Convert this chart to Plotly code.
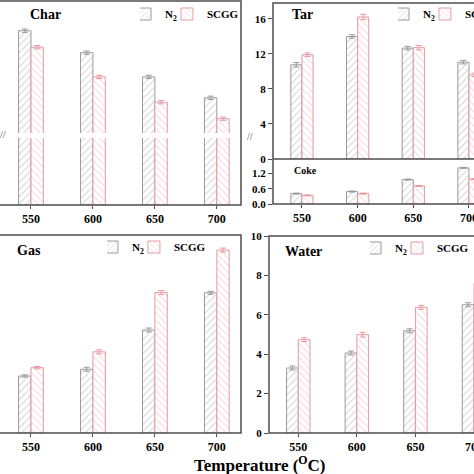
import plotly.graph_objects as go

W = H = 474

# ---------------- data ----------------
temps = ["550", "600", "650", "700"]

char_n2 = [29.3, 27.3, 25.1, 23.2]
char_scgg = [27.8, 25.1, 22.8, 21.3]
char_n2_err = [0.15, 0.15, 0.15, 0.15]
char_scgg_err = [0.15, 0.15, 0.15, 0.15]

tar_n2 = [10.75, 13.98, 12.65, 11.05]
tar_scgg = [11.9, 16.2, 12.7, 9.6]
tar_n2_err = [0.25, 0.2, 0.2, 0.2]
tar_scgg_err = [0.2, 0.3, 0.25, 0.2]

coke_n2 = [0.41, 0.49, 0.96, 1.42]
coke_scgg = [0.34, 0.41, 0.71, 0.98]
coke_n2_err = [0.02, 0.02, 0.02, 0.02]
coke_scgg_err = [0.02, 0.02, 0.02, 0.02]

gas_n2 = [14.4, 16.1, 26.0, 35.4]
gas_scgg = [16.5, 20.5, 35.5, 46.2]
gas_n2_err = [0.3, 0.5, 0.5, 0.4]
gas_scgg_err = [0.3, 0.5, 0.5, 0.5]

water_n2 = [3.3, 4.06, 5.19, 6.51]
water_scgg = [4.74, 4.99, 6.38, 7.6]
water_n2_err = [0.1, 0.1, 0.1, 0.1]
water_scgg_err = [0.1, 0.12, 0.1, 0.1]

# ---------------- style ----------------
FONT = "Liberation Serif"
N2_LINE = "#9a9a9a"
N2_HATCH = "#b4b4b4"
SC_LINE = "#e49aa3"
SC_HATCH = "#eeb6bd"
FRAME = "#4d4d4d"


def px(x):
    return x / W


def py(y):
    return 1 - y / H


def bars(x_ax, y_ax, n2, sc, n2e=None, sce=None, legend=None, show=False):
    out = []
    for name, vals, err, lc, hc, shape, og in [
        ("N<sub>2</sub>", n2, n2e, N2_LINE, N2_HATCH, "/", "a"),
        ("SCGG", sc, sce, SC_LINE, SC_HATCH, "\\", "b"),
    ]:
        kw = {}
        if err is not None:
            kw["error_y"] = dict(type="data", array=err, color=lc, thickness=1, width=3)
        out.append(go.Bar(
            x=temps, y=vals, name=name, xaxis=x_ax, yaxis=y_ax, offsetgroup=og,
            marker=dict(color="white", line=dict(color=lc, width=1),
                        pattern=dict(shape=shape, fgcolor=hc, bgcolor="white",
                                     size=5, solidity=0.22)),
            showlegend=show, legend=legend, **kw))
    return out


fig = go.Figure()
# Char (broken axis: upper + lower segments)
for t in bars("x", "y", char_n2, char_scgg, char_n2_err, char_scgg_err, "legend", True):
    fig.add_trace(t)
for t in bars("x2", "y2", char_n2, char_scgg):
    fig.add_trace(t)
# Tar / Coke
for t in bars("x3", "y3", tar_n2, tar_scgg, tar_n2_err, tar_scgg_err, "legend2", True):
    fig.add_trace(t)
for t in bars("x4", "y4", coke_n2, coke_scgg, coke_n2_err, coke_scgg_err):
    fig.add_trace(t)
# Gas
for t in bars("x5", "y5", gas_n2, gas_scgg, gas_n2_err, gas_scgg_err, "legend3", True):
    fig.add_trace(t)
# Water
for t in bars("x6", "y6", water_n2, water_scgg, water_n2_err, water_scgg_err, "legend4", True):
    fig.add_trace(t)

tickfont = dict(family=FONT, size=12, color="black", weight="bold")
ytickfont = dict(family=FONT, size=11, color="black", weight="bold")


def xaxis(dom, rng, labels, anchor):
    d = dict(domain=dom, range=rng, type="category", anchor=anchor,
             showgrid=False, zeroline=False, showline=False, fixedrange=True)
    if labels:
        d.update(ticks="outside", ticklen=3, tickcolor=FRAME, tickfont=tickfont)
    else:
        d.update(showticklabels=False, ticks="")
    return d


def yaxis(dom, rng, anchor, labels=False, **extra):
    d = dict(domain=dom, range=rng, anchor=anchor, showgrid=False, zeroline=False,
             showline=False, fixedrange=True)
    if labels:
        d.update(ticks="outside", ticklen=4, tickcolor=FRAME, tickfont=ytickfont)
    else:
        d.update(showticklabels=False, ticks="")
    d.update(extra)
    return d


char_x = [px(0), px(241)]
tar_x = [px(273), 1.0]
gas_x = [px(0), px(241)]
wat_x = [px(269), 1.0]

fig.update_layout(
    width=W, height=H, autosize=False,
    margin=dict(l=0, r=0, t=0, b=0, pad=0, autoexpand=False),
    paper_bgcolor="white", plot_bgcolor="rgba(0,0,0,0)",
    barmode="group", bargap=0.6, bargroupgap=0,
    font=dict(family=FONT, color="black"),
    xaxis=xaxis(char_x, [-0.5, 3.39], False, "y"),
    yaxis=yaxis([py(133), py(1)], [20, 32], "x"),
    xaxis2=xaxis(char_x, [-0.5, 3.39], True, "y2"),
    yaxis2=yaxis([py(205), py(138)], [0, 8], "x2"),
    xaxis3=xaxis(tar_x, [-0.52, 3.09], False, "y3"),
    yaxis3=yaxis([py(159), py(3)], [0, 17.8], "x3", True, dtick=4),
    xaxis4=xaxis(tar_x, [-0.52, 3.09], True, "y4"),
    yaxis4=yaxis([py(204), py(159)], [0, 1.77], "x4", True,
                 tickvals=[0, 0.6, 1.2], tickformat=".1f"),
    xaxis5=xaxis(gas_x, [-0.5, 3.39], True, "y5"),
    yaxis5=yaxis([py(433), py(235)], [0, 50], "x5"),
    xaxis6=xaxis(wat_x, [-0.5, 3.0], True, "y6"),
    yaxis6=yaxis([py(433), py(236)], [0, 10], "x6", True, dtick=2),
)

leg_font = dict(family=FONT, size=11, color="black", weight="bold")


def legend(x, y):
    return dict(orientation="h", x=px(x), y=py(y), xanchor="left", yanchor="middle",
                font=leg_font, bgcolor="rgba(0,0,0,0)", borderwidth=0,
                itemwidth=30, indentation=-15, tracegroupgap=0)


fig.update_layout(
    legend=legend(140, 14),
    legend2=legend(398, 14),
    legend3=legend(107, 247),
    legend4=legend(370, 248),
)

# frames
frames = [
    (-5, 1, 241, 205),
    (273, 3, 480, 204),
    (-5, 235, 241, 433),
    (269, 236, 480, 433),
]
for x0, y0, x1, y1 in frames:
    fig.add_shape(type="rect", xref="paper", yref="paper",
                  x0=px(x0), x1=px(x1), y0=py(y1), y1=py(y0),
                  line=dict(color=FRAME, width=1.5), fillcolor="rgba(0,0,0,0)")
# tar / coke divider
fig.add_shape(type="line", xref="paper", yref="paper", x0=px(273), x1=px(480),
              y0=py(159), y1=py(159), line=dict(color=FRAME, width=1.5))

title_font = dict(family=FONT, size=14, color="black", weight="bold")
ann = [
    ("Char", 28, 15, title_font),
    ("Tar", 290, 15, title_font),
    ("Coke", 292, 170, dict(family=FONT, size=10, color="black", weight="bold")),
    ("Gas", 15, 250, title_font),
    ("Water", 283, 251, title_font),
]
for text, x, y, f in ann:
    fig.add_annotation(text=text, xref="paper", yref="paper", x=px(x), y=py(y),
                       xanchor="left", yanchor="middle", showarrow=False, font=f)

fig.add_annotation(text="Temperature (<sup>O</sup>C)", xref="paper", yref="paper",
                   x=px(260), y=py(464), xanchor="center", yanchor="middle",
                   showarrow=False,
                   font=dict(family=FONT, size=17, color="black", weight="bold"))

# axis-break marks
for x, y in [(3, 135), (250, 136)]:
    fig.add_annotation(text="//", xref="paper", yref="paper", x=px(x), y=py(y),
                       xanchor="center", yanchor="middle", showarrow=False,
                       font=dict(family=FONT, size=10, color=FRAME))

fig.write_html(
    "out.html",
    config={"displayModeBar": False},
    post_script="document.body.style.margin='0';document.body.style.overflow='hidden';",
)
